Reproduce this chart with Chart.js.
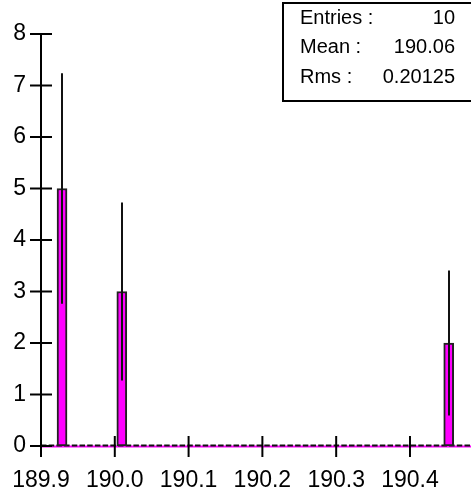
<!DOCTYPE html>
<html>
<head>
<meta charset="utf-8">
<script src="https://cdn.jsdelivr.net/npm/chart.js@4/dist/chart.umd.min.js"></script>
<style>
  body { margin: 0; background: #fff; }
  canvas { display: block; }
</style>
</head>
<body>
<canvas id="histo" width="471" height="496"></canvas>
<script>
// dados do histograma
const binCenters = [189.9285, 190.0095, 190.4525];
const counts = [5, 3, 2];
const errors = [2.24, 1.73, 1.41];

// eixos
const xMin = 189.9;
const xMax = 190.4827;
const yMin = 0;
const yMax = 8;
const xTicks = [189.9, 190.0, 190.1, 190.2, 190.3, 190.4];
const yTicks = [0, 1, 2, 3, 4, 5, 6, 7, 8];

// caixa de estatisticas
const statLabels = ["Entries :", "Mean :", "Rms :"];
const statValues = ["10", "190.06", "0.20125"];

const FONT = "'Liberation Sans', Arial, Helvetica, sans-serif";

// desenha linha base, eixos, barras de erro e caixa de estatisticas
const rootStyle = {
    id: "rootStyle",
    beforeDatasetsDraw(chart) {
        const ctx = chart.ctx;
        const x = chart.scales.x, y = chart.scales.y;
        const y0 = y.getPixelForValue(0);
        ctx.save();
        ctx.lineWidth = 2;
        ctx.strokeStyle = "#ff00ff";
        ctx.beginPath();
        ctx.moveTo(x.left, y0 + 0.5);
        ctx.lineTo(x.right, y0 + 0.5);
        ctx.stroke();
        ctx.strokeStyle = "#111";
        ctx.setLineDash([5.5, 2.2]);
        ctx.beginPath();
        ctx.moveTo(x.left, y0 - 0.5);
        ctx.lineTo(x.right, y0 - 0.5);
        ctx.stroke();
        ctx.restore();
    },
    afterDatasetsDraw(chart) {
        const ctx = chart.ctx;
        const x = chart.scales.x, y = chart.scales.y;
        ctx.save();

        // barras de erro
        ctx.strokeStyle = "#111";
        ctx.lineWidth = 2;
        binCenters.forEach((c, i) => {
            const px = Math.round(x.getPixelForValue(c));
            ctx.beginPath();
            ctx.moveTo(px, y.getPixelForValue(counts[i] + errors[i]));
            ctx.lineTo(px, y.getPixelForValue(counts[i] - errors[i]));
            ctx.stroke();
        });

        // eixo y
        ctx.strokeStyle = "#000";
        ctx.lineWidth = 2;
        ctx.beginPath();
        ctx.moveTo(x.left, y.getPixelForValue(yMax));
        ctx.lineTo(x.left, y.getPixelForValue(yMin));
        ctx.stroke();
        yTicks.forEach(v => {
            const py = y.getPixelForValue(v);
            ctx.beginPath();
            ctx.moveTo(x.left - 11, py);
            ctx.lineTo(x.left + 11, py);
            ctx.stroke();
        });

        // marcas do eixo x
        const y0 = y.getPixelForValue(0);
        xTicks.forEach(v => {
            const px = x.getPixelForValue(v);
            ctx.beginPath();
            ctx.moveTo(px, y0 - 10);
            ctx.lineTo(px, y0 + 11);
            ctx.stroke();
        });

        // caixa de estatisticas
        ctx.fillStyle = "#fff";
        ctx.fillRect(283, 3, 200, 98);
        ctx.strokeStyle = "#000";
        ctx.lineWidth = 2;
        ctx.strokeRect(283, 3, 200, 98);
        ctx.fillStyle = "#000";
        ctx.font = "20px " + FONT;
        ctx.textBaseline = "alphabetic";
        const baselines = [24, 53, 82.5];
        statLabels.forEach((lbl, i) => {
            ctx.textAlign = "left";
            ctx.fillText(lbl, 300, baselines[i]);
            ctx.textAlign = "right";
            ctx.fillText(statValues[i], 455, baselines[i]);
        });
        ctx.restore();
    }
};

new Chart(document.getElementById("histo"), {
    type: "bar",
    data: {
        datasets: [{
            data: binCenters.map((c, i) => ({ x: c, y: counts[i] })),
            backgroundColor: "#ff00ff",
            borderColor: "#222",
            borderWidth: 2,
            borderSkipped: false,
            barThickness: 10
        }]
    },
    options: {
        responsive: false,
        animation: false,
        devicePixelRatio: 1,
        layout: { padding: { top: 34, right: 0, left: 0, bottom: 0 } },
        plugins: {
            legend: { display: false },
            tooltip: { enabled: false }
        },
        scales: {
            x: {
                type: "linear",
                min: xMin,
                max: xMax,
                offset: false,
                grid: { display: false },
                border: { display: false },
                afterBuildTicks: (scale) => { scale.ticks = xTicks.map(v => ({ value: v })); },
                afterFit: (scale) => { scale.height = 50; scale.paddingLeft = 0; scale.paddingRight = 0; },
                ticks: {
                    color: "#000",
                    padding: 13,
                    maxRotation: 0,
                    autoSkip: false,
                    font: { family: FONT, size: 23 },
                    callback: (v) => Number(v).toFixed(1)
                }
            },
            y: {
                min: yMin,
                max: yMax,
                grid: { display: false },
                border: { display: false },
                afterBuildTicks: (scale) => { scale.ticks = yTicks.map(v => ({ value: v })); },
                afterFit: (scale) => { scale.width = 41; },
                ticks: {
                    color: "#000",
                    padding: 7,
                    font: { family: FONT, size: 23 }
                }
            }
        }
    },
    plugins: [rootStyle]
});
</script>
</body>
</html>
